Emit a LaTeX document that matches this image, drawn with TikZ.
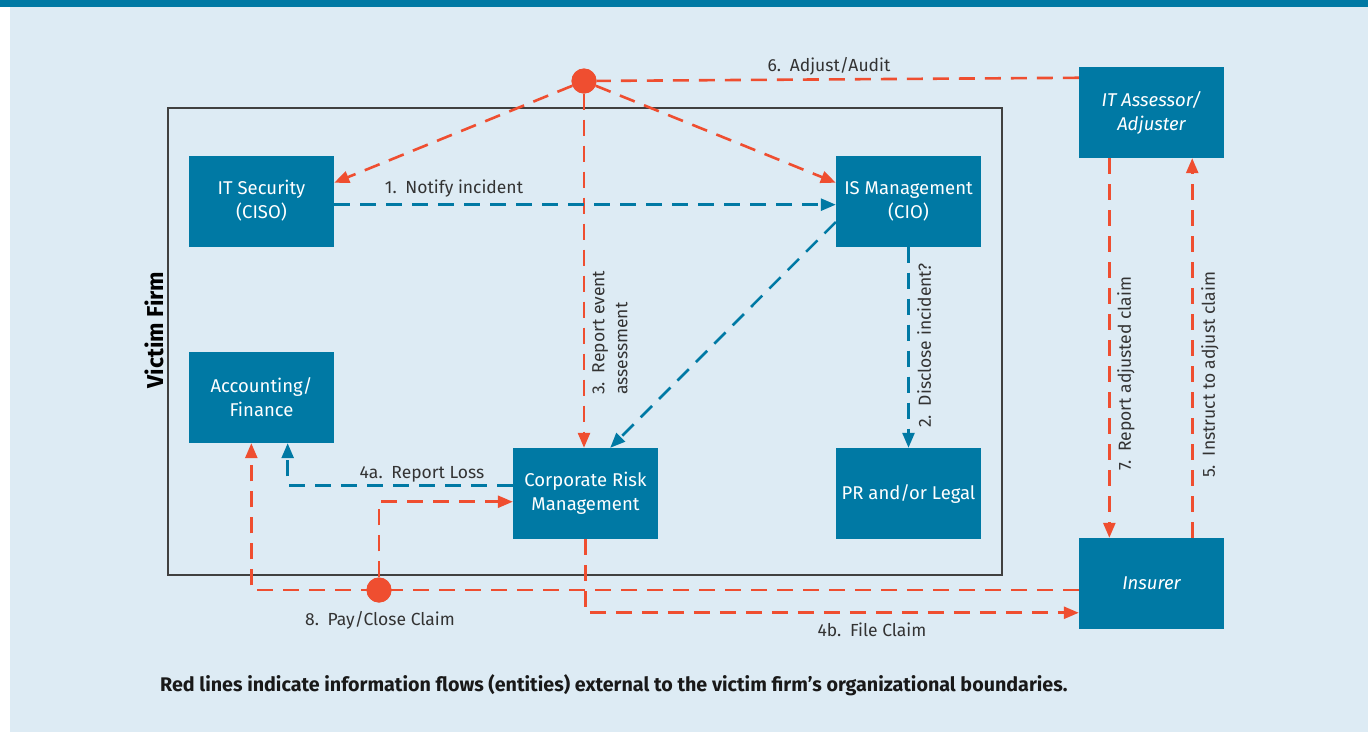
\documentclass[tikz,border=0pt]{standalone}
\usepackage{fontspec}
\setmainfont{Fira Sans}
\usetikzlibrary{arrows.meta,calc}
\definecolor{bgblue}{HTML}{DDEBF4}
\definecolor{nodeblue}{HTML}{0079A4}
\definecolor{redline}{HTML}{EF4E30}
\definecolor{txtgray}{HTML}{333333}
\begin{document}
\begin{tikzpicture}[x=1pt,y=-1pt,
  box/.style={fill=nodeblue,text=white,minimum width=145pt,minimum height=91pt,
    align=center,inner sep=0pt,font=\fontsize{18.5}{24}\selectfont},
  flowbase/.style={line width=2.6pt,dash pattern=on 16pt off 10pt},
  redflow/.style={flowbase,draw=redline},
  blueflow/.style={flowbase,draw=nodeblue},
  tip/.style={-{Triangle[length=15pt,width=12pt]}},
  lbl/.style={text=txtgray,font=\fontsize{17.5}{23}\selectfont,inner sep=0pt},
  rlbl/.style={lbl,rotate=90,anchor=north west,align=left},
  dot/.style={circle,fill=redline,minimum size=25pt,inner sep=0pt}]
\useasboundingbox (0,0) rectangle (1368,732);
\fill[white] (0,0) rectangle (1368,732);
\fill[bgblue] (10,7) rectangle (1368,732);
\fill[nodeblue] (0,0) rectangle (1368,7);
% firm boundary
\draw[line width=1.6pt,draw=black!75] (168,108) rectangle (1002,575);
\node[font=\bfseries\fontsize{23}{26}\selectfont,rotate=90,text=black,inner sep=0pt] (vf) at (154,330) {Victim Firm};
% nodes
\node[box] (itsec) at (261.5,201) {IT Security\\(CISO)};
\node[box] (ism) at (908.5,201) {IS Management\\(CIO)};
\node[box] (acc) at (261.5,397.5) {Accounting/\\Finance};
\node[box] (crm) at (585.5,493.5) {Corporate Risk\\Management};
\node[box] (pr) at (908.5,493.5) {PR and/or Legal};
\node[box,font=\itshape\fontsize{18.5}{24}\selectfont] (ita) at (1151.5,112.5) {IT Assessor/\\Adjuster};
\node[box,font=\itshape\fontsize{18.5}{24}\selectfont] (ins) at (1151.5,583.5) {Insurer};
\node[dot] (dtop) at (584,81) {};
\node[dot] (dbot) at (379,590) {};
% coordinates
\coordinate (c6) at ($(ita.north west)!0.12!(ita.south west)$);
\coordinate (cItsec) at ($(itsec.north east)!0.3!(itsec.south east)$);
\coordinate (cIsm) at ($(ism.north west)!0.3!(ism.south west)$);
\coordinate (c1a) at ($(itsec.north east)!0.54!(itsec.south east)$);
\coordinate (c1b) at ($(ism.north west)!0.54!(ism.south west)$);
\coordinate (cDiagA) at ($(ism.north west)!0.73!(ism.south west)$);
\coordinate (cDiagB) at ($(crm.north west)!0.67!(crm.north east)$);
\coordinate (c4a) at ($(crm.north west)!0.41!(crm.south west)$);
\coordinate (cAccB) at ($(acc.south west)!0.68!(acc.south east)$);
\coordinate (cAccR) at ($(acc.south west)!0.43!(acc.south east)$);
\coordinate (c8) at ($(ins.north west)!0.57!(ins.south west)$);
\coordinate (cCrmIn) at ($(crm.north west)!0.59!(crm.south west)$);
\coordinate (c4b) at ($(ins.north west)!0.82!(ins.south west)$);
\coordinate (c7a) at ($(ita.south west)!0.21!(ita.south east)$);
\coordinate (c5a) at ($(ins.north west)!0.78!(ins.north east)$);
% red flows from top dot
\draw[redflow] (c6) -- (dtop);
\draw[redflow,tip] (dtop) -- (cItsec);
\draw[redflow,tip] (dtop) -- (cIsm);
\draw[redflow,tip] (dtop) -- (crm.north -| dtop);
% blue flows
\draw[blueflow,tip] (c1a) -- (c1b);
\draw[blueflow,tip] (cDiagA) -- (cDiagB);
\draw[blueflow,tip] (ism.south) -- (pr.north);
\draw[blueflow,tip] (c4a) -| (cAccB);
% red flows lower
\draw[redflow,tip] (c8) -| (cAccR);
\draw[redflow,tip] (dbot) |- (cCrmIn);
\draw[redflow,tip] (crm.south) |- (c4b);
\draw[redflow,tip] (c7a) -- (c7a |- ins.north);
\draw[redflow,tip] (c5a) -- (c5a |- ita.south);
\node[dot] at (dbot) {};
\node[dot] at (dtop) {};
% labels
\node[lbl] (l1) at (454,189) {1.\enspace Notify incident};
\node[lbl] (l6) at (829,66) {6.\enspace Adjust/Audit};
\node[lbl] (l4a) at (422,474) {4a.\enspace Report Loss};
\node[lbl] (l8) at (380,620) {8.\enspace Pay/Close Claim};
\node[lbl] (l4b) at (872,630) {4b.\enspace File Claim};
\node[rlbl] (l3) at (592,395) {3.\enspace Report event\\assessment};
\node[rlbl] (l2) at (917,428) {2.\enspace Disclose incident?};
\node[rlbl] (l7) at (1117,471) {7.\enspace Report adjusted claim};
\node[rlbl] (l5) at (1201,478) {5.\enspace Instruct to adjust claim};
\node[text=black!90,font=\bfseries\fontsize{19.7}{22}\selectfont,anchor=west,inner sep=0pt] (cap) at (160,685) {Red lines indicate information flows (entities) external to the victim firm’s organizational boundaries.};
\end{tikzpicture}
\end{document}
